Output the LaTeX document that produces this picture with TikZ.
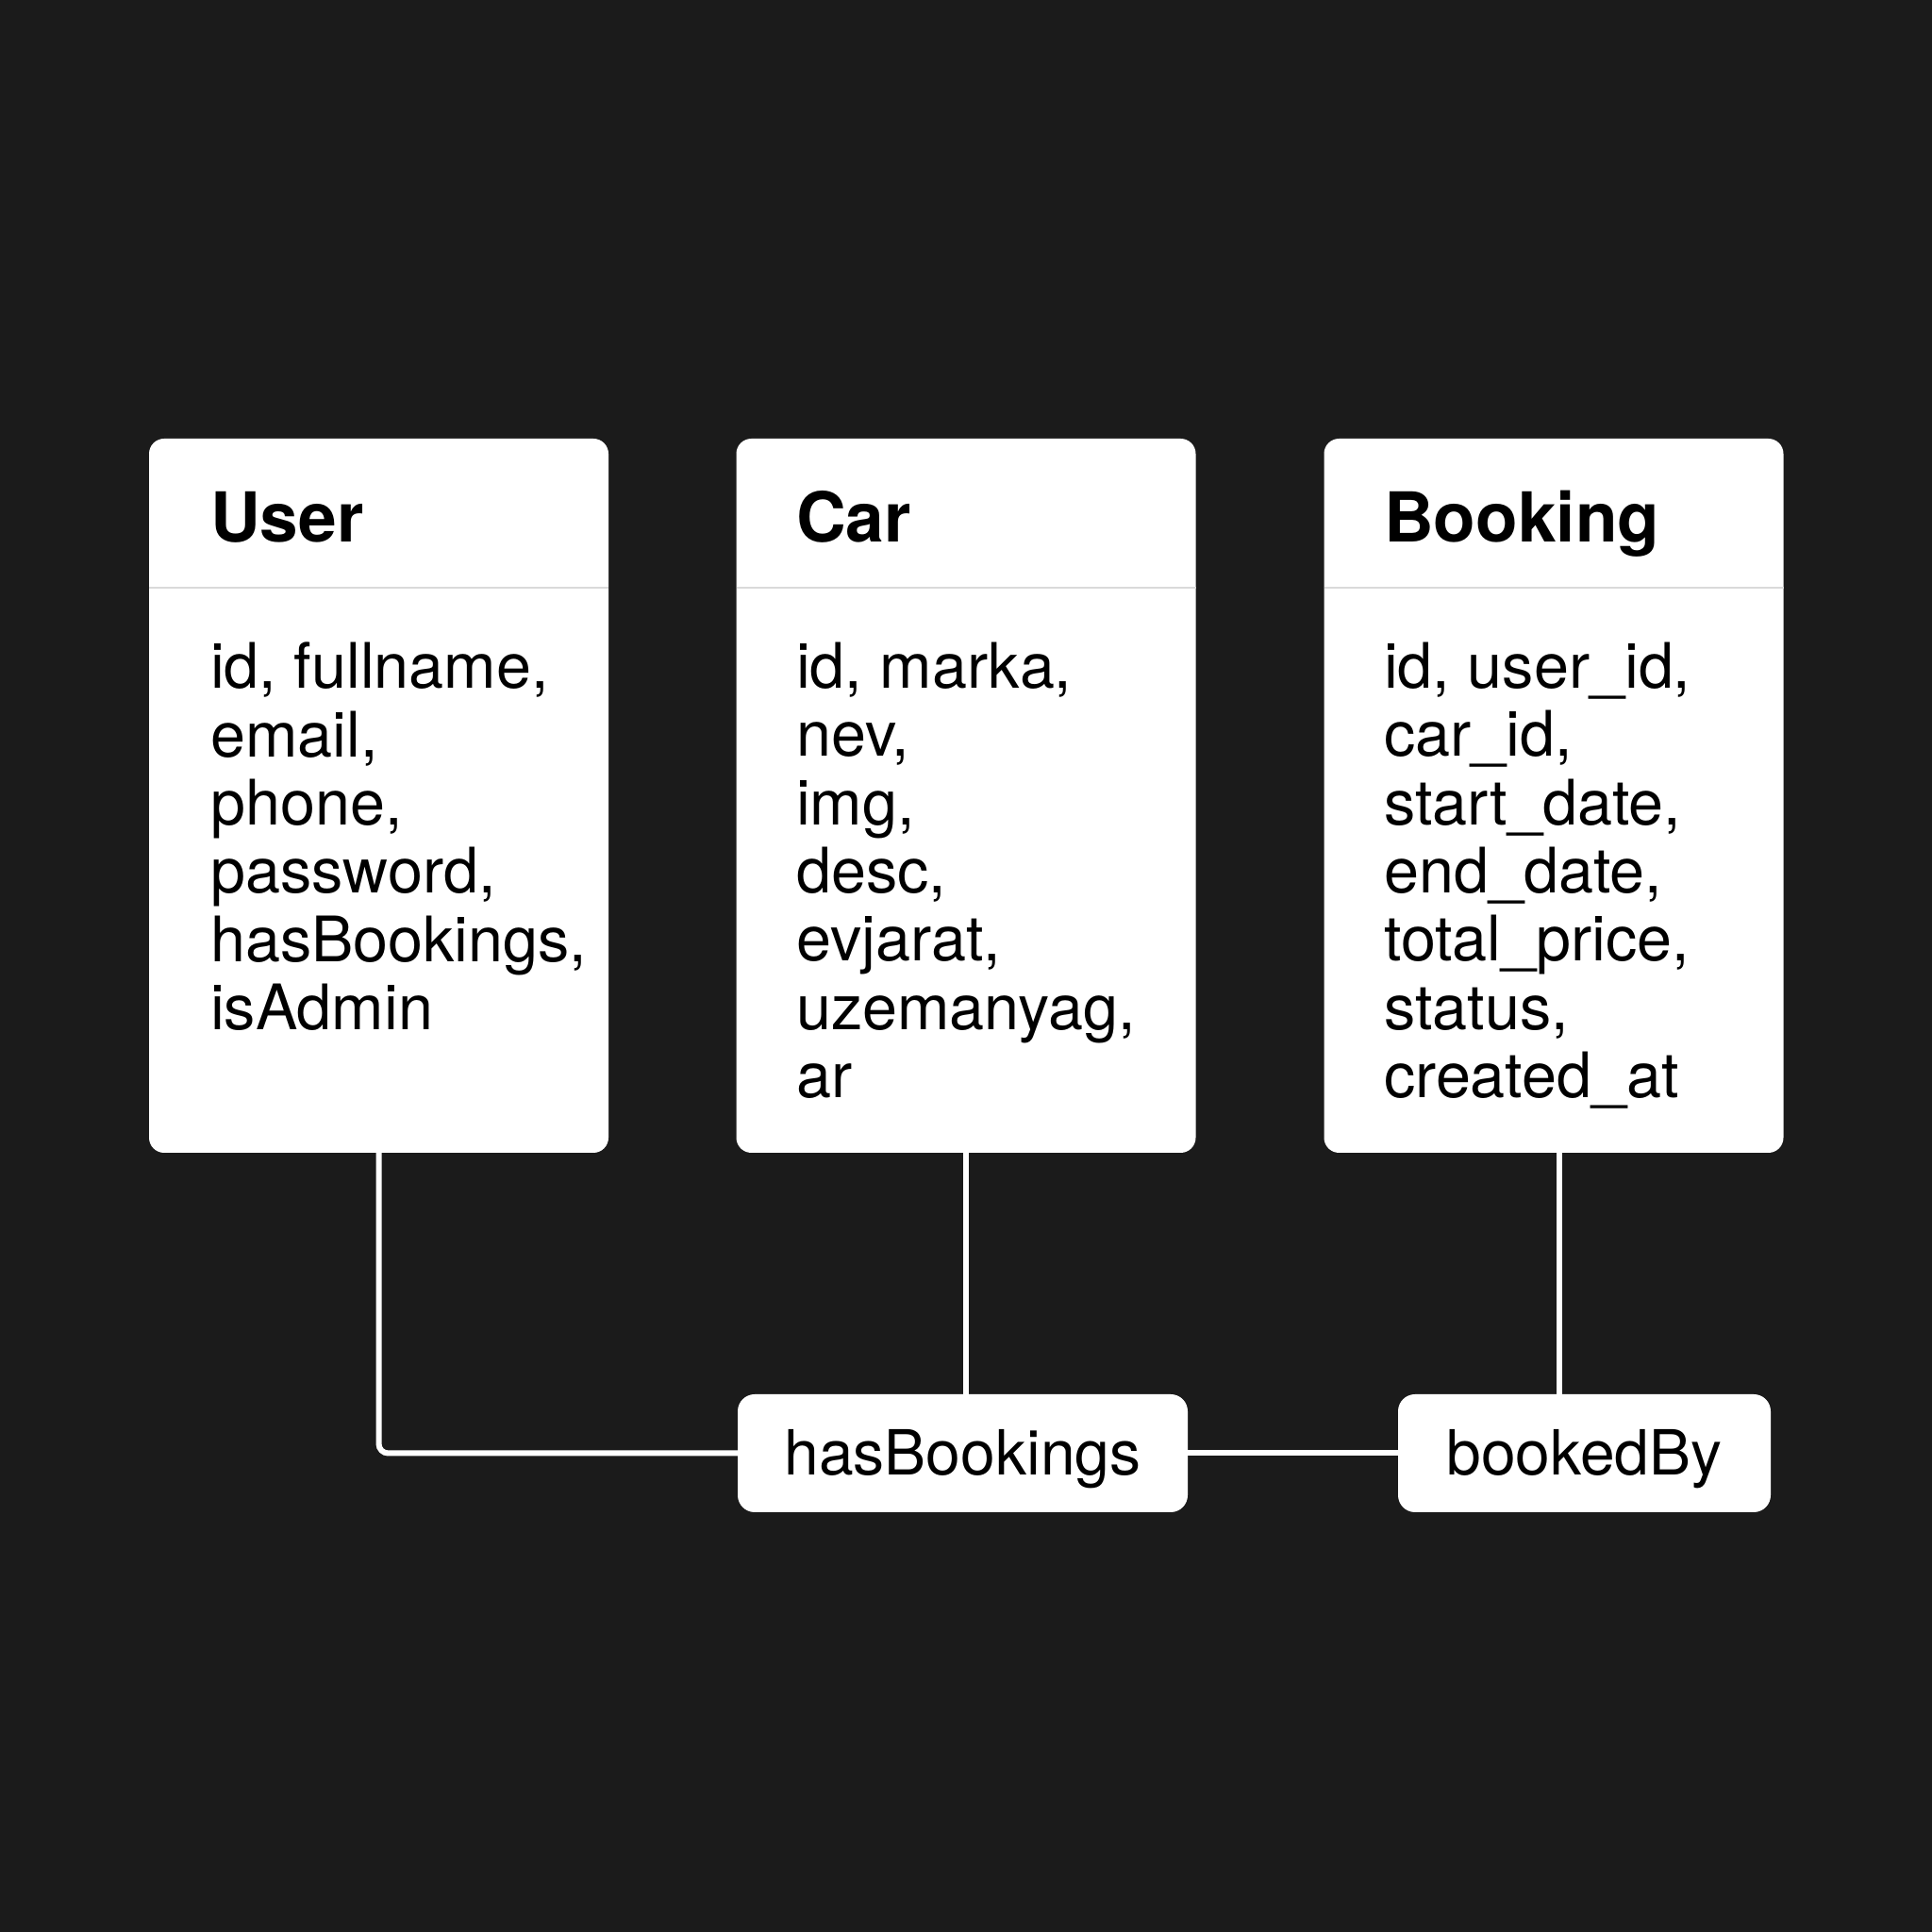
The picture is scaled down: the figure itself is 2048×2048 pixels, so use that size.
\documentclass[tikz,border=0pt]{standalone}
\usepackage{fontspec}
\setmainfont{TeX Gyre Heros}
\definecolor{bg}{HTML}{1B1B1B}
\definecolor{sepcol}{HTML}{DADADA}
\tikzset{
 table/.style={fill=white, rounded corners=16pt, minimum width=487pt, minimum height=757pt, inner sep=0pt},
 rel/.style={fill=white, rounded corners=18pt, minimum height=125pt, inner sep=0pt, text height=51pt, text depth=4pt, font=\fontsize{66}{72}\selectfont},
 tabletitle/.style={anchor=base west, inner sep=0pt, font=\fontsize{73}{80}\selectfont\bfseries},
 fields/.style={anchor=north west, inner sep=0pt, align=left, font=\fontsize{66.5}{72.3}\selectfont},
 link/.style={draw=white, line width=6pt, rounded corners=10pt},
 rulecol/.style={draw=sepcol, line width=2.5pt}
}
\begin{document}
\begin{tikzpicture}[x=1pt,y=1pt]
\fill[bg] (0,0) rectangle (2048,2048);
\useasboundingbox (0,0) rectangle (2048,2048);
% tables
\node[table] (user) at (401.5,1204.5) {};
\node[table] (car) at (1024,1204.5) {};
\node[table] (booking) at (1647,1204.5) {};
% header rules
\draw[rulecol] (158,1425) -- (645,1425);
\draw[rulecol] (780.5,1425) -- (1267.5,1425);
\draw[rulecol] (1403.5,1425) -- (1890.5,1425);
% titles
\node[tabletitle] (usert) at (223,1473) {User};
\node[tabletitle] (cart) at (844,1473) {Car};
\node[tabletitle] (bookingt) at (1467,1473) {Booking};
% fields
\node[fields] (userf) at (223,1367) {id, fullname,\\email,\\phone,\\password,\\hasBookings,\\isAdmin};
\node[fields] (carf) at (844,1367) {id, marka,\\nev,\\img,\\desc,\\evjarat,\\uzemanyag,\\ar};
\node[fields] (bookingf) at (1467,1367) {id, user\_id,\\car\_id,\\start\_date,\\end\_date,\\total\_price,\\status,\\created\_at};
% relation labels
\node[rel, minimum width=477pt] (hb) at (1020.5,507.5) {hasBookings};
\node[rel, minimum width=395pt] (bb) at (1679.5,507.5) {bookedBy};
% connectors
\draw[link] (user.south) |- (hb.west);
\draw[link] (car.south) -- (car.south |- hb.north);
\draw[link] ([xshift=6pt]booking.south) -- ([xshift=6pt]booking.south |- bb.north);
\draw[link] (hb.east) -- (bb.west);
\end{tikzpicture}
\end{document}
